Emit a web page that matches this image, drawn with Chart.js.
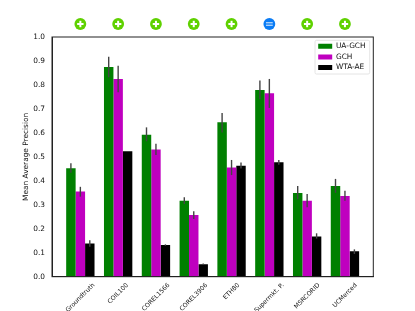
<!DOCTYPE html>
<html><head><meta charset="utf-8">
<style>html,body{margin:0;padding:0;background:#fff}canvas{display:block}</style>
<script src="https://cdn.jsdelivr.net/npm/chart.js@4"></script></head>
<body><canvas id="c" width="415" height="311"></canvas>
<script>
const categories=['Groundtruth','COIL100','COREL1566','COREL3906','ETH80','Supermkt. P.','MSRCORID','UCMerced'];
const seriesNames=['UA-GCH','GCH','WTA-AE'];
const seriesColors=['#008000','#bf00bf','#000000'];
const uaGch=[0.452,0.875,0.592,0.317,0.644,0.779,0.349,0.378];
const gch=[0.355,0.825,0.531,0.257,0.456,0.765,0.317,0.337];
const wtaAe=[0.138,0.523,0.132,0.052,0.463,0.477,0.168,0.106];
const uaGchLow=[0.434,0.832,0.565,0.303,0.602,0.740,0.323,0.350];
const uaGchHigh=[0.473,0.918,0.623,0.331,0.683,0.819,0.378,0.408];
const gchLow=[0.334,0.769,0.508,0.241,0.424,0.704,0.290,0.317];
const gchHigh=[0.375,0.880,0.555,0.273,0.487,0.825,0.345,0.359];
const wtaLow=[0.125,0.523,0.129,0.050,0.451,0.467,0.159,0.095];
const wtaHigh=[0.152,0.523,0.135,0.055,0.476,0.487,0.181,0.114];
const verdicts=['+','+','+','+','+','=','+','+'];
const yTicks=[0,0.1,0.2,0.3,0.4,0.5,0.6,0.7,0.8,0.9,1.0];

const FONT='"DejaVu Sans"';
const toPts=a=>a.map((v,i)=>({x:i,y:v}));
const lows=[uaGchLow,gchLow,wtaLow],highs=[uaGchHigh,gchHigh,wtaHigh];

const extras={id:'extras',
 afterLayout(ch){
  const l=ch.legend,a=ch.chartArea;
  l.left=a.right-58.3;l.right=a.right-3.6;l.top=a.top+2.4;l.bottom=a.bottom;
 },
 afterDatasetsDraw(ch){
  const c=ch.ctx,y=ch.scales.y;
  c.save();c.strokeStyle='#444';c.lineWidth=1.4;
  ch.data.datasets.forEach((d,s)=>{
   ch.getDatasetMeta(s).data.forEach((b,i)=>{
    if(highs[s][i]<=lows[s][i])return;
    c.beginPath();c.moveTo(b.x,y.getPixelForValue(lows[s][i]));c.lineTo(b.x,y.getPixelForValue(highs[s][i]));c.stroke();
   });
  });
  c.restore();
 },
 afterDraw(ch){
  const c=ch.ctx,a=ch.chartArea,x=ch.scales.x,l=ch.legend;
  c.save();
  c.strokeStyle='#222';c.lineWidth=1;
  c.strokeRect(a.left,a.top,a.right-a.left,a.bottom-a.top);
  c.strokeStyle='#ddd';c.lineWidth=0.8;
  c.beginPath();c.roundRect(l.left,a.top+3.3,54.7,33.7,1.5);c.stroke();
  verdicts.forEach((v,i)=>{
   const px=x.getPixelForValue(i),py=24;
   c.fillStyle=v==='='?'#0a7cf5':'#5fd100';
   c.beginPath();c.arc(px,py,5.9,0,Math.PI*2);c.fill();
   if(v==='='){c.fillStyle='#a9d0fb';c.fillRect(px-3.4,py-2,6.8,1.4);c.fillRect(px-3.4,py+0.6,6.8,1.4);}
   else{c.fillStyle='#fff';c.fillRect(px-3.2,py-1,6.4,2);c.fillRect(px-1,py-3.2,2,6.4);}
  });
  c.restore();
 }
};

Chart.defaults.font.family=FONT;
new Chart(document.getElementById('c'),{
 type:'bar',
 data:{datasets:[uaGch,gch,wtaAe].map((v,s)=>({label:seriesNames[s],data:toPts(v),backgroundColor:seriesColors[s],borderWidth:0,categoryPercentage:0.75,barPercentage:1}))},
 options:{
  responsive:false,animation:false,
  layout:{padding:{left:0,top:37,right:41.7,bottom:0}},
  plugins:{
   tooltip:{enabled:false},
   legend:{position:'chartArea',align:'start',labels:{boxWidth:14,boxHeight:5,color:'#111',padding:3.2,font:{size:7.4,family:FONT}}},
  },
  scales:{
   x:{type:'linear',offset:false,min:-0.75,max:7.75,
    grid:{display:false,drawTicks:true,tickLength:3,tickColor:'#222'},
    border:{color:'#222',width:1},
    ticks:{stepSize:1,includeBounds:false,maxRotation:45,minRotation:45,autoSkip:false,padding:2,color:'#111',font:{size:6.2,family:FONT},
     callback:v=>categories[v]??''},
    afterFit(s){s.height=34.3;
     if(!s.$wrapped){s.$wrapped=true;const o=s._computeLabelItems;
      s._computeLabelItems=function(ca){
       const it=o.call(this,ca);const c=this.ctx;c.save();c.font='6.2px '+FONT;
       it.forEach(k=>{const w=c.measureText(k.label).width;k.options.translation[0]+=w*Math.SQRT1_2/2;});
       c.restore();return it;};
     }}
   },
   y:{min:0,max:1,
    grid:{display:false,tickLength:3,tickColor:'#222'},
    border:{color:'#222',width:1},
    afterBuildTicks(s){s.ticks=yTicks.map(v=>({value:v}));},
    ticks:{padding:4,color:'#111',font:{size:7.4,family:FONT},callback:v=>v.toFixed(1)},
    title:{display:true,text:'Mean Average Precision',color:'#111',font:{size:7.4,family:FONT},padding:{top:22,bottom:0}},
    afterFit(s){s.width=52;}
   }
  }
 },
 plugins:[extras]
});
</script></body></html>
